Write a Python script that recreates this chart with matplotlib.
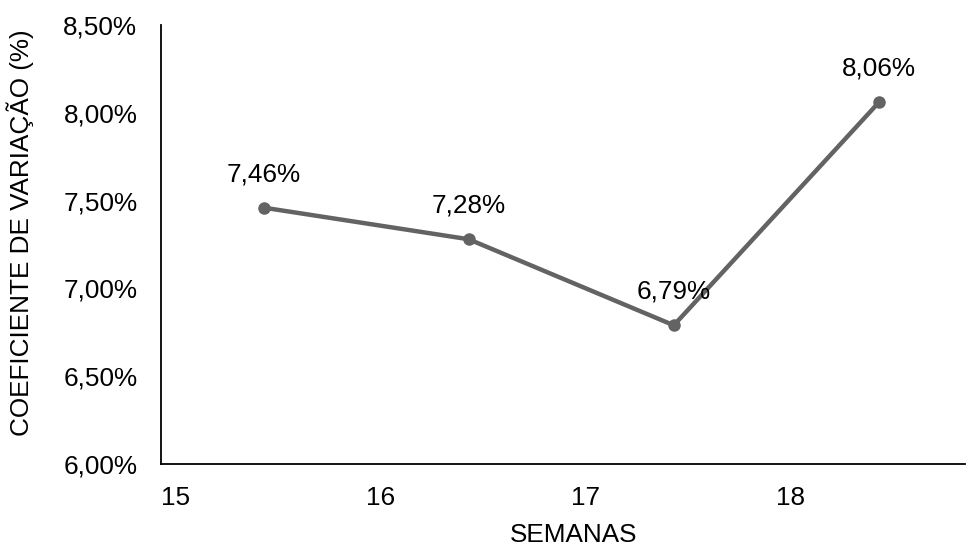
import matplotlib
matplotlib.use("Agg")
import matplotlib.pyplot as plt
import numpy as np

# data
weeks = ["15", "16", "17", "18"]
cv_values = [7.46, 7.28, 6.79, 8.06]
y_ticks = [6.0, 6.5, 7.0, 7.5, 8.0, 8.5]

plt.rcParams["font.family"] = ["Liberation Sans", "DejaVu Sans"]
FS = 18.8

fig = plt.figure(figsize=(9.68, 5.47), dpi=100)
ax = fig.add_axes([0.1663, 0.1517, 0.8307, 0.8026])

# category slots: labels sit at slot start, points are shifted into the slot
tick_pos = np.arange(len(weeks))
point_pos = tick_pos + 0.43

ax.plot(point_pos, cv_values, color="#636363", lw=3.2, marker="o",
        markersize=8, solid_capstyle="round", zorder=3)

for x, v in zip(point_pos, cv_values):
    ax.annotate(f"{v:.2f}%".replace(".", ","), (x, v), xytext=(0, 24),
                textcoords="offset points", ha="center", va="center",
                fontsize=FS, color="black")

ax.set_xlim(-0.07, 3.85)
ax.set_ylim(6.0, 8.5)
ax.set_xticks(tick_pos)
ax.set_xticklabels(weeks)
ax.set_yticks(y_ticks)
ax.set_yticklabels([f"{t:.2f}%".replace(".", ",") for t in y_ticks])
ax.tick_params(axis="both", length=0, labelsize=FS)
ax.tick_params(axis="y", pad=17)
ax.tick_params(axis="x", pad=16)

for side in ("top", "right"):
    ax.spines[side].set_visible(False)
for side in ("left", "bottom"):
    ax.spines[side].set_linewidth(1.3)
    ax.spines[side].set_color("black")

ax.set_xlabel("SEMANAS", fontsize=FS)
ax.xaxis.set_label_coords(0.513, -0.134)
ax.set_ylabel("COEFICIENTE DE VARIAÇÃO (%)", fontsize=FS)
ax.yaxis.set_label_coords(-0.158, 0.527)

fig.savefig("out.png", dpi=100)
